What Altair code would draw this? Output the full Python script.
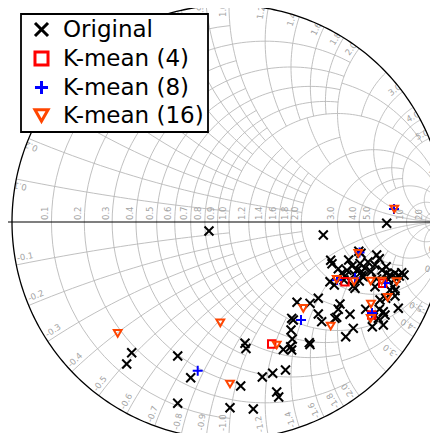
import numpy as np
import pandas as pd
import altair as alt

alt.data_transformers.disable_max_rows()

orig_re = [-0.0922, -0.4484, -0.4714, -0.2364, -0.1765, -0.2364, 0.0539, 0.0046, 0.1120, 0.1535,
           0.2014, 0.2604, 0.2198, 0.2290, 0.0737, 0.0783, 0.2502, 0.2889, 0.2843, 0.2917,
           0.2857, 0.2889, 0.2963, 0.3134, 0.3733, 0.4115, 0.4115, 0.4272, 0.3700, 0.3733,
           0.4963, 0.5037, 0.5115, 0.5576, 0.5728, 0.5378, 0.6300, 0.6926, 0.7111, 0.7189,
           0.7802, 0.6650, 0.6604, 0.7111, 0.6959, 0.7221, 0.7650, 0.7571, 0.7650, 0.6728,
           0.5728, 0.5806, 0.6005, 0.5300, 0.4654, 0.4853, 0.6806, 0.7341, 0.7848, 0.7959,
           0.8065, 0.7249, 0.7419, 0.6115, 0.5770, 0.5194, 0.6553, 0.5912, 0.6115, 0.5438,
           0.5037, 0.7244, 0.6728, 0.6037, 0.4747, 0.4687, 0.5516, 0.6926, 0.6806, 0.5982,
           0.6083, 0.4346, 0.7267, 0.5668, 0.6267, 0.6406, 0.5346, 0.7051, 0.7696, 0.6189,
           0.7650, 0.7419, 0.6880, 0.4885]
orig_im = [-0.0415, -0.6023, -0.6544, -0.6175, -0.7175, -0.8355, -0.7558, -0.8558, -0.8618, -0.7143,
           -0.6972, -0.6820, -0.7834, -0.8065, -0.5590, -0.5829, -0.5876, -0.5899, -0.5747, -0.5392,
           -0.4977, -0.4438, -0.4516, -0.3696, -0.3747, -0.3516, -0.4240, -0.4594, -0.5562, -0.5645,
           -0.4392, -0.4023, -0.3779, -0.4253, -0.4899, -0.5286, -0.4023, -0.4023, -0.4134, -0.4286,
           -0.3977, -0.4392, -0.4825, -0.4747, -0.3594, -0.3516, -0.3410, -0.2982, -0.3157, -0.2982,
           -0.2949, -0.3055, -0.2719, -0.2673, -0.2751, -0.2903, -0.2618, -0.2641, -0.2488, -0.2336,
           -0.2442, -0.2364, -0.2442, -0.2465, -0.2419, -0.2364, -0.2290, -0.2198, -0.2290, -0.2226,
           -0.2157, -0.2060, -0.1982, -0.1912, -0.1922, -0.1765, -0.1751, -0.1696, -0.1521, -0.1346,
           -0.1442, -0.0599, -0.0060, -0.2028, -0.2120, -0.1843, -0.2488, -0.2212, -0.2581, -0.2521,
           -0.2364, -0.3134, -0.4438, -0.4438]

k4_re = [0.5346, 0.7083, 0.6576, 0.1968]
k4_im = [-0.2751, -0.2825, -0.4286, -0.5622]

k8_re = [-0.1442, 0.3318, 0.4977, 0.7189, 0.6590, 0.7604, 0.6014, 0.5806]
k8_im = [-0.6853, -0.4516, -0.2673, -0.2811, -0.4194, 0.0599, -0.1406, -0.2581]

k16_re = [0.7618, -0.5129, -0.0401, 0.0046, 0.2198, 0.3424, 0.4687, 0.4963,
          0.5959, 0.5760, 0.6530, 0.7037, 0.7728, 0.7313, 0.6544, 0.6530]
k16_im = [0.0599, -0.5129, -0.4645, -0.7465, -0.5668, -0.3977, -0.4793, -0.2641,
          -0.1442, -0.2751, -0.2719, -0.2719, -0.2751, -0.3470, -0.3779, -0.4438]

series_names = ["Original", "K-mean (4)", "K-mean (8)", "K-mean (16)"]
series_colors = ["#000000", "#ff0000", "#0000ff", "#ff4500"]

# Smith chart grid: major impedance ticks and the label values
grid_major = [0, 1, 2, 5, 10, 20, np.inf]
grid_steps = [0.1, 0.2, 0.5, 1, 2, 5, 10]
label_values = [0.1, 0.2, 0.3, 0.4, 0.5, 0.6, 0.7, 0.8, 0.9, 1.0,
                1.2, 1.4, 1.6, 1.8, 2.0, 3.0, 4.0, 5.0, 10.0, 20.0]

# ---------------- layout ----------------
W, H = 422, 425
R_PX = 217.0
CX, CY = 221.0, 214.0          # chart centre inside the plot area (px)
xdom = [-CX / R_PX, (W - CX) / R_PX]
ydom = [-(H - CY) / R_PX, CY / R_PX]
GAP_MIN = 0.035
GRID_COLOR = "#b9b9b9"
LABEL_COLOR = "#a3a3a3"
FONT = "DejaVu Sans"

xs = alt.Scale(domain=xdom, nice=False, zero=False)
ys = alt.Scale(domain=ydom, nice=False, zero=False)


def gam(z):
    return (z - 1) / (z + 1)


def pick(a0, a1, gap_fn):
    L = a1 - a0
    for s in grid_steps:
        n = L / s
        nr = int(round(n))
        if abs(n - nr) > 1e-9 or nr < 2:
            continue
        vals = a0 + s * np.arange(nr + 1)
        if gap_fn(vals) >= GAP_MIN:
            return list(vals[1:])
    return [a1]


def gap_r(vals, x1):
    if not np.isfinite(x1):
        return 0.0
    p = gam(np.array(vals) + 1j * x1)
    return float(np.min(np.abs(np.diff(p))))


def gap_x(vals, r1):
    if not np.isfinite(r1):
        return 0.0
    p = gam(r1 + 1j * np.array(vals))
    return float(np.min(np.abs(np.diff(p))))


def param(a0, a1, n=26):
    t0 = np.arctan(a0)
    t1 = np.arctan(a1) if np.isfinite(a1) else np.pi / 2 - 1e-7
    return np.tan(np.linspace(t0, t1, n))


rows = []
lid = [0]


def add(g):
    for k, v in enumerate(g):
        rows.append({"id": lid[0], "k": k, "re": round(float(v.real), 4), "im": round(float(v.imag), 4)})
    lid[0] += 1


for i in range(len(grid_major) - 1):
    r0, r1 = grid_major[i], grid_major[i + 1]
    for j in range(len(grid_major) - 1):
        x0, x1 = grid_major[j], grid_major[j + 1]
        if np.isfinite(r1):
            for rv in pick(r0, r1, lambda v: gap_r(v, x1)):
                g = gam(rv + 1j * param(x0, x1))
                add(g)
                add(np.conj(g))
        if np.isfinite(x1):
            for xv in pick(x0, x1, lambda v: gap_x(v, r1)):
                g = gam(param(r0, r1) + 1j * xv)
                add(g)
                add(np.conj(g))

grid_df = pd.DataFrame(rows)

th = np.linspace(0, 2 * np.pi, 361)
rim_df = pd.DataFrame({"k": np.arange(361), "re": np.cos(th), "im": np.sin(th)})
MASK_W = 24
mrad = 1 + (MASK_W / 2) / R_PX
mask_df = pd.DataFrame({"k": np.arange(361), "re": mrad * np.cos(th), "im": mrad * np.sin(th)})


def fmt(v):
    return f"{v:.1f}" if v < 10 else f"{v:.0f}"


res_lab = pd.DataFrame({"text": [fmt(v) for v in label_values],
                        "re": [float(gam(v).real) for v in label_values],
                        "im": [0.0] * len(label_values)})

rl = []
for v in label_values:
    t = float(np.angle(gam(1j * v)))
    # lower half: reading inward, kept inside the visible area
    rho = 1 - 2.0 / R_PX
    st = np.sin(t)
    if st > 1e-6:
        rho = min(rho, (H - CY - 2.0) / (R_PX * st))
    ang = np.degrees(np.arctan2(-np.sin(t), -np.cos(t))) % 360
    rl.append({"text": "-" + fmt(v), "re": rho * np.cos(t), "im": -rho * np.sin(t), "ang": ang})
    # upper half: reading outward (cut by the rim as in the original)
    rho = 1 - 12.0 / R_PX
    ang = (-np.degrees(t)) % 360
    rl.append({"text": fmt(v), "re": rho * np.cos(t), "im": rho * np.sin(t), "ang": ang})
react_lab = pd.DataFrame(rl)

X_PATH = "M-1,-1L1,1M-1,1L1,-1"
PLUS_PATH = "M-1,0L1,0M0,-1L0,1"
series_shapes = [X_PATH, "square", PLUS_PATH, "triangle-down"]
series_sizes = [80, 55, 100, 60]
series_re = [orig_re, k4_re, k8_re, k16_re]
series_im = [orig_im, k4_im, k8_im, k16_im]

X = alt.X("re:Q", scale=xs, axis=None)
Y = alt.Y("im:Q", scale=ys, axis=None)

grid = alt.Chart(grid_df).mark_line(color=GRID_COLOR, strokeWidth=0.9).encode(
    x=X, y=Y, detail="id:N", order="k:Q")

res_text = alt.Chart(res_lab).mark_text(
    angle=270, align="left", baseline="bottom", dx=2, dy=-1.5,
    fontSize=8.5, font=FONT, color=LABEL_COLOR).encode(x=X, y=Y, text="text:N")

react_text = alt.Chart(react_lab).mark_text(
    align="left", baseline="bottom", dy=-1.5,
    fontSize=8.5, font=FONT, color=LABEL_COLOR).encode(
    x=X, y=Y, text="text:N", angle=alt.Angle("ang:Q", scale=None))

mask = alt.Chart(mask_df).mark_line(color="white", strokeWidth=MASK_W).encode(x=X, y=Y, order="k:Q")

rim = alt.Chart(rim_df).mark_line(color="black", strokeWidth=1.3).encode(x=X, y=Y, order="k:Q")

axis_line = alt.Chart(pd.DataFrame({"a": [xdom[0]], "b": [xdom[1]], "im": [0.0]})).mark_rule(
    color="black", strokeWidth=1.2).encode(
    x=alt.X("a:Q", scale=xs, axis=None), x2="b:Q", y=Y)

legend = alt.Legend(title=None, orient="none", legendX=13, legendY=6, padding=4,
                    strokeColor="black", fillColor="white", cornerRadius=0,
                    labelFontSize=23, labelFont=FONT, labelColor="black",
                    symbolSize=170, symbolStrokeWidth=3, symbolOffset=5,
                    labelOffset=10, rowPadding=2, labelLimit=400)

color_enc = alt.Color("series:N", scale=alt.Scale(domain=series_names, range=series_colors), legend=legend)
shape_enc = alt.Shape("series:N", scale=alt.Scale(domain=series_names, range=series_shapes), legend=legend)

point_layers = []
for name, re_, im_, sz in zip(series_names, series_re, series_im, series_sizes):
    df = pd.DataFrame({"series": name, "re": re_, "im": im_})
    point_layers.append(
        alt.Chart(df).mark_point(filled=False, strokeWidth=2, opacity=1, size=sz).encode(
            x=X, y=Y, color=color_enc, shape=shape_enc))

chart = alt.layer(grid, res_text, react_text, mask, axis_line, rim, *point_layers).properties(
    width=W, height=H, padding=0,
    autosize=alt.AutoSizeParams(type="none")
).configure_view(stroke=None).configure_legend(strokeWidth=1.8)

chart.save("out.html", embed_options={"renderer": "svg", "actions": False})
